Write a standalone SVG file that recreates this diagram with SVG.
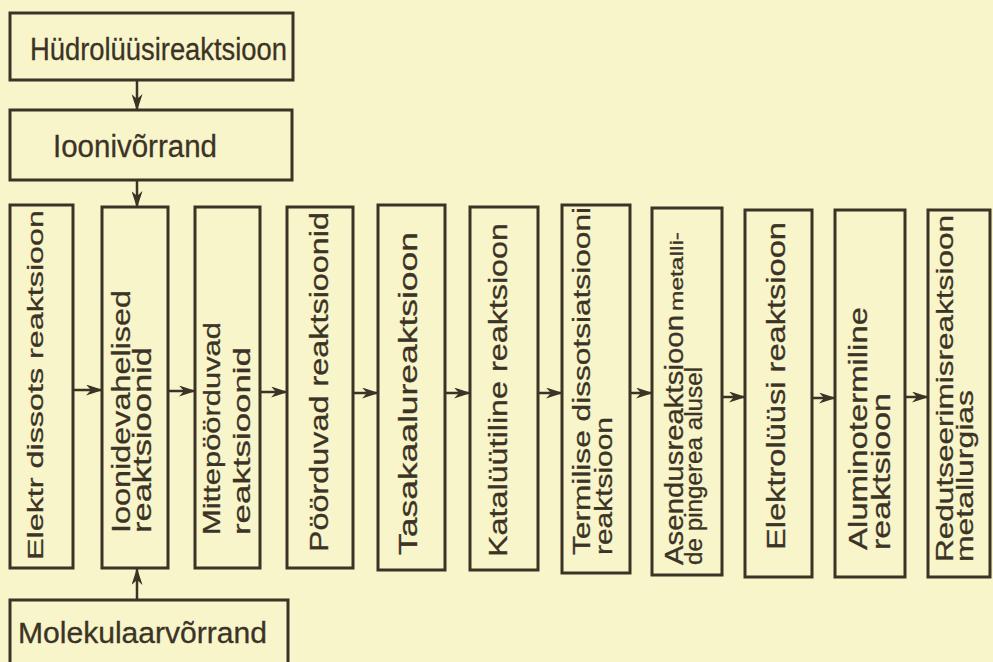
<svg xmlns="http://www.w3.org/2000/svg" width="993" height="662" viewBox="0 0 993 662">
<style>
.bx{fill:none;stroke:#3b3325;stroke-width:3}
.cn{fill:none;stroke:#3b3325;stroke-width:2.5}
text{font-family:"Liberation Sans","DejaVu Sans",sans-serif;fill:#3b3325;stroke:#3b3325;stroke-width:0.3}
</style>
<defs>
<marker id="ah" viewBox="0 0 17 11" refX="16" refY="5.5" markerWidth="17" markerHeight="11" markerUnits="userSpaceOnUse" orient="auto">
<path d="M0,0 L17,5.5 L0,11 L5,5.5 z" fill="#3b3325"/>
</marker>
</defs>
<rect width="993" height="662" fill="#f8f5cb"/>
<g id="connectors">
<line class="cn" x1="137" y1="80" x2="137" y2="110" marker-end="url(#ah)"/>
<line class="cn" x1="137" y1="180" x2="137" y2="207" marker-end="url(#ah)"/>
<line class="cn" x1="137" y1="600" x2="137" y2="569" marker-end="url(#ah)"/>
<line class="cn" x1="73" y1="390" x2="102" y2="390" marker-end="url(#ah)"/>
<line class="cn" x1="168" y1="391" x2="195" y2="391" marker-end="url(#ah)"/>
<line class="cn" x1="260" y1="392" x2="287" y2="392" marker-end="url(#ah)"/>
<line class="cn" x1="353" y1="393" x2="378" y2="393" marker-end="url(#ah)"/>
<line class="cn" x1="445" y1="393" x2="470" y2="393" marker-end="url(#ah)"/>
<line class="cn" x1="538" y1="393" x2="562" y2="393" marker-end="url(#ah)"/>
<line class="cn" x1="630" y1="393" x2="652" y2="393" marker-end="url(#ah)"/>
<line class="cn" x1="722" y1="397" x2="745" y2="397" marker-end="url(#ah)"/>
<line class="cn" x1="812" y1="398" x2="835" y2="398" marker-end="url(#ah)"/>
<line class="cn" x1="905" y1="397" x2="928" y2="397" marker-end="url(#ah)"/>
</g>
<g id="hydrolysis">
<rect class="bx" x="10" y="13" width="283" height="67"/>
<text x="30" y="60" font-size="31" textLength="257" lengthAdjust="spacingAndGlyphs">Hüdrolüüsireaktsioon</text>
</g>
<g id="ionic-eq">
<rect class="bx" x="10" y="110" width="282" height="70"/>
<text x="53" y="157" font-size="31" textLength="164" lengthAdjust="spacingAndGlyphs">Ioonivõrrand</text>
</g>
<g id="molecular-eq">
<rect class="bx" x="10" y="600" width="278" height="75"/>
<text x="18" y="643" font-size="29" textLength="249" lengthAdjust="spacingAndGlyphs">Molekulaarvõrrand</text>
</g>
<g id="n1">
<rect class="bx" x="10" y="205" width="63" height="363"/>
<text transform="translate(43,560) rotate(-90)" font-size="22" textLength="350" lengthAdjust="spacingAndGlyphs">Elektr dissots reaktsioon</text>
</g>
<g id="n2">
<rect class="bx" x="102" y="207" width="66" height="361"/>
<text transform="translate(130,533) rotate(-90)" font-size="25" textLength="243" lengthAdjust="spacingAndGlyphs">Ioonidevahelised</text>
<text transform="translate(151,533) rotate(-90)" font-size="25" textLength="186" lengthAdjust="spacingAndGlyphs">reaktsioonid</text>
</g>
<g id="n3">
<rect class="bx" x="195" y="207" width="65" height="361"/>
<text transform="translate(220,535) rotate(-90)" font-size="24" textLength="213" lengthAdjust="spacingAndGlyphs">Mittepöörduvad</text>
<text transform="translate(250,535) rotate(-90)" font-size="24" textLength="188" lengthAdjust="spacingAndGlyphs">reaktsioonid</text>
</g>
<g id="n4">
<rect class="bx" x="287" y="207" width="66" height="361"/>
<text transform="translate(328,552) rotate(-90)" font-size="25" textLength="340" lengthAdjust="spacingAndGlyphs">Pöörduvad reaktsioonid</text>
</g>
<g id="n5">
<rect class="bx" x="378" y="205" width="67" height="365"/>
<text transform="translate(417,555) rotate(-90)" font-size="26" textLength="323" lengthAdjust="spacingAndGlyphs">Tasakaalureaktsioon</text>
</g>
<g id="n6">
<rect class="bx" x="470" y="207" width="68" height="363"/>
<text transform="translate(507,557) rotate(-90)" font-size="25" textLength="334" lengthAdjust="spacingAndGlyphs">Katalüütiline reaktsioon</text>
</g>
<g id="n7">
<rect class="bx" x="562" y="205" width="68" height="368"/>
<text transform="translate(590,555) rotate(-90)" font-size="23" textLength="348" lengthAdjust="spacingAndGlyphs">Termilise dissotsiatsiooni</text>
<text transform="translate(612,555) rotate(-90)" font-size="23" textLength="138" lengthAdjust="spacingAndGlyphs">reaktsioon</text>
</g>
<g id="n8">
<rect class="bx" x="652" y="208" width="70" height="367"/>
<text transform="translate(683,565) rotate(-90)" font-size="25" textLength="250" lengthAdjust="spacingAndGlyphs">Asendusreaktsioon</text>
<text transform="translate(683,311) rotate(-90)" font-size="18" textLength="79" lengthAdjust="spacingAndGlyphs">metalli-</text>
<text transform="translate(702,565) rotate(-90)" font-size="23" textLength="198" lengthAdjust="spacingAndGlyphs">de pingerea  alusel</text>
</g>
<g id="n9">
<rect class="bx" x="745" y="210" width="67" height="367"/>
<text transform="translate(785,550) rotate(-90)" font-size="25" textLength="328" lengthAdjust="spacingAndGlyphs">Elektrolüüsi reaktsioon</text>
</g>
<g id="n10">
<rect class="bx" x="835" y="210" width="70" height="367"/>
<text transform="translate(867,550) rotate(-90)" font-size="26" textLength="243" lengthAdjust="spacingAndGlyphs">Aluminotermiline</text>
<text transform="translate(890,550) rotate(-90)" font-size="26" textLength="157" lengthAdjust="spacingAndGlyphs">reaktsioon</text>
</g>
<g id="n11">
<rect class="bx" x="928" y="210" width="62" height="367"/>
<text transform="translate(953,562) rotate(-90)" font-size="24" textLength="347" lengthAdjust="spacingAndGlyphs">Redutseerimisreaktsioon</text>
<text transform="translate(973,562) rotate(-90)" font-size="24" textLength="172" lengthAdjust="spacingAndGlyphs">metallurgias</text>
</g>
</svg>
